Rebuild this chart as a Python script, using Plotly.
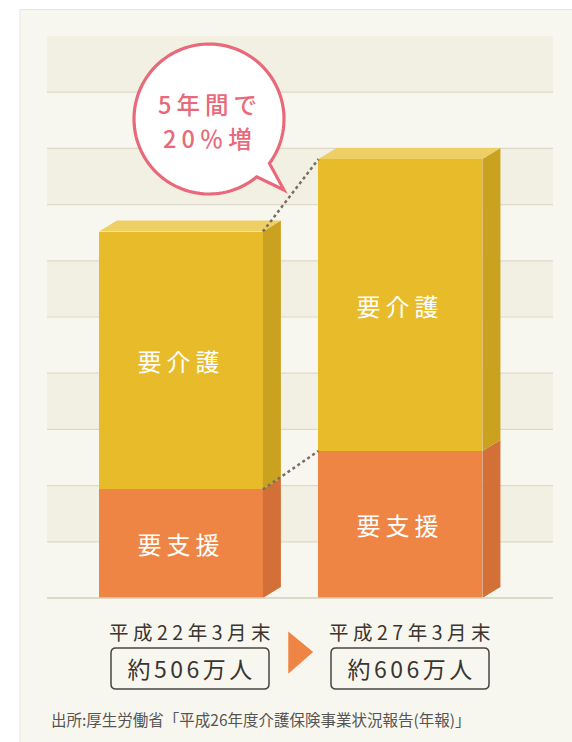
import numpy as np
import plotly.graph_objects as go

# ---- data ----
periods = ["平成22年3月末", "平成27年3月末"]
totals_label = ["約506万人", "約606万人"]
support = [150, 203]          # 要支援 (万人)
care = [356, 403]             # 要介護 (万人)
segment_names = ["要支援", "要介護"]
bubble_lines = ["5年間で", "20％増"]
source_text = "出所:厚生労働省「平成26年度介護保険事業状況報告(年報)」"

W, H = 572, 742
L, R, T, B = 47, 19, 36, 144
PW, PH = W - L - R, H - T - B

def px(x):
    return (x - L) / PW

def py(y):
    return (H - B - y) / PH

def P(x, y):
    return f"{px(x):.5f},{py(y):.5f}"

FONT = "Noto Sans CJK JP"
YEL, YEL_SIDE, YEL_TOP = "#e8bb2a", "#cba220", "#edcf66"
ORG, ORG_SIDE = "#ef8545", "#d27038"
PINK = "#e8697a"

xs = [0, 1]
bw = 0.747
dx, dy = 0.082, 15.2
yr = [0, 776]

fig = go.Figure()
fig.add_trace(go.Bar(x=xs, y=support, width=bw, marker=dict(color=ORG, line=dict(width=0)),
                     name=segment_names[0], hoverinfo="skip"))
fig.add_trace(go.Bar(x=xs, y=care, width=bw, marker=dict(color=YEL, line=dict(width=0)),
                     name=segment_names[1], hoverinfo="skip"))

# 3D side / top faces derived from the data
for i, x in enumerate(xs):
    xl, xr = x - bw / 2, x + bw / 2
    s = support[i]
    t = support[i] + care[i]
    fig.add_trace(go.Scatter(x=[xr, xr + dx, xr + dx, xr, xr], y=[0, dy, s + dy, s, 0],
                             fill="toself", fillcolor=ORG_SIDE, mode="lines",
                             line=dict(width=0), hoverinfo="skip"))
    fig.add_trace(go.Scatter(x=[xr, xr + dx, xr + dx, xr, xr], y=[s, s + dy, t + dy, t, s],
                             fill="toself", fillcolor=YEL_SIDE, mode="lines",
                             line=dict(width=0), hoverinfo="skip"))
    fig.add_trace(go.Scatter(x=[xl, xl + dx, xr + dx, xr, xl], y=[t, t + dy, t + dy, t, t],
                             fill="toself", fillcolor=YEL_TOP, mode="lines",
                             line=dict(width=0), hoverinfo="skip"))
    # labels inside bars
    fig.add_annotation(x=x, y=s / 2, text=segment_names[0], showarrow=False,
                       xanchor="center", yanchor="middle",
                       font=dict(family=FONT, size=24, color="white"))
    fig.add_annotation(x=x, y=s + care[i] * 0.5, text=segment_names[1], showarrow=False,
                       xanchor="center", yanchor="middle",
                       font=dict(family=FONT, size=24, color="white"))

# dotted connectors
tot = [support[i] + care[i] for i in range(2)]
for vals in (tot, support):
    fig.add_trace(go.Scatter(x=[xs[0] + bw / 2, xs[1] - bw / 2], y=vals, mode="lines",
                             line=dict(color="#7a6e60", width=2.5, dash="dot"),
                             hoverinfo="skip"))

shapes = []
# panel background
shapes.append(dict(type="rect", xref="paper", yref="paper", x0=px(20), x1=px(573),
                   y0=py(743), y1=py(9.5), fillcolor="#f8f7ef",
                   line=dict(color="#e6e5e0", width=1), layer="below"))
# stripes
for k in range(10):
    if k % 2 == 1:
        shapes.append(dict(type="rect", xref="paper", yref="paper", x0=0, x1=1,
                           y0=k * 0.1, y1=(k + 1) * 0.1, fillcolor="#f2f0e3",
                           line=dict(width=0), layer="below"))
for k in range(1, 10):
    shapes.append(dict(type="line", xref="paper", yref="paper", x0=0, x1=1,
                       y0=k * 0.1, y1=k * 0.1, line=dict(color="#dcd9c8", width=1.2),
                       layer="below"))
shapes.append(dict(type="line", xref="paper", yref="paper", x0=0, x1=1, y0=0, y1=0,
                   line=dict(color="#d2cfbc", width=1.6), layer="above"))

# speech bubble
cx, cy, r = 209, 119, 75
a0, a1 = np.deg2rad(50.4), np.deg2rad(360 + 36.3)
angs = np.linspace(a0, a1, 120)
pts = [P(cx + r * np.cos(a), cy + r * np.sin(a)) for a in angs]
path = "M " + " L ".join(pts) + " L " + P(284, 190) + " Z"
shapes.append(dict(type="path", xref="paper", yref="paper", path=path,
                   fillcolor="white", line=dict(color=PINK, width=3.2), layer="above"))

# label boxes
def rrect(x0, y0, x1, y1, rad=5):
    return ("M " + P(x0 + rad, y0) + " L " + P(x1 - rad, y0) + " Q " + P(x1, y0) + " " + P(x1, y0 + rad)
            + " L " + P(x1, y1 - rad) + " Q " + P(x1, y1) + " " + P(x1 - rad, y1)
            + " L " + P(x0 + rad, y1) + " Q " + P(x0, y1) + " " + P(x0, y1 - rad)
            + " L " + P(x0, y0 + rad) + " Q " + P(x0, y0) + " " + P(x0 + rad, y0) + " Z")

box_x = [(111, 269), (331, 489)]
for (x0, x1) in box_x:
    shapes.append(dict(type="path", xref="paper", yref="paper", path=rrect(x0, 648, x1, 689),
                       fillcolor="rgba(0,0,0,0)", line=dict(color="#4a4440", width=1.5)))
# arrow
shapes.append(dict(type="path", xref="paper", yref="paper",
                   path="M " + P(289, 633) + " L " + P(312, 652) + " L " + P(289, 672) + " Z",
                   fillcolor=ORG, line=dict(color=ORG, width=1.5)))

for j, (line, yy) in enumerate(zip(bubble_lines, [104, 138])):
    fig.add_annotation(xref="paper", yref="paper", x=px(210), y=py(yy), text=line,
                       xanchor="center", yanchor="middle",
                       showarrow=False, font=dict(family=FONT, size=23.5, color=PINK, weight=500))
for i, (x0, x1) in enumerate(box_x):
    c = (x0 + x1) / 2
    fig.add_annotation(xref="paper", yref="paper", x=px(c + 2), y=py(631), text=periods[i],
                       xanchor="center", yanchor="middle",
                       showarrow=False, font=dict(family=FONT, size=19.5, color="#3a3530"))
    fig.add_annotation(xref="paper", yref="paper", x=px(c + 1), y=py(668), text=totals_label[i],
                       xanchor="center", yanchor="middle",
                       showarrow=False, font=dict(family=FONT, size=23, color="#3a3530"))
fig.add_annotation(xref="paper", yref="paper", x=px(49), y=py(719), text=source_text,
                   xanchor="left", yanchor="middle", showarrow=False,
                   font=dict(family=FONT, size=15.5, color="#555"))

fig.update_layout(
    width=W, height=H, margin=dict(l=L, r=R, t=T, b=B),
    paper_bgcolor="white", plot_bgcolor="#f8f7ef",
    barmode="stack", showlegend=False, shapes=shapes,
    xaxis=dict(range=[-0.61, 1.695], visible=False, fixedrange=True),
    yaxis=dict(range=yr, visible=False, fixedrange=True),
)

# wide letter spacing as in the original typography (display labels only)
post = """
document.body.style.margin='0px';
document.body.style.overflow='hidden';
document.querySelectorAll('.annotation-text').forEach(function(t){
  var fs = parseFloat(t.style.fontSize);
  var ls = 0;
  if (fs >= 23.9) { ls = 5; }
  else if (fs >= 23.4) { ls = 5; }
  else if (fs >= 22.9) { ls = 3.5; }
  else if (fs >= 19) { ls = 4.5; }
  if (ls) { t.style.letterSpacing = ls + 'px'; }
});
"""
fig.write_html("out.html", config={"displayModeBar": False}, post_script=post)
